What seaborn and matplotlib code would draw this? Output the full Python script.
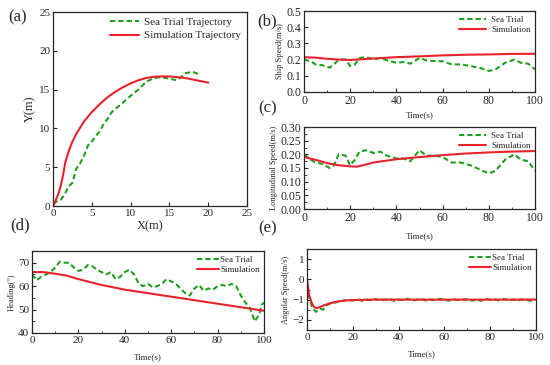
"""Sea trial vs simulation comparison: trajectory, speeds, heading, angular speed."""

import matplotlib.pyplot as plt
import pandas as pd
import seaborn as sns
from matplotlib.ticker import AutoMinorLocator

# (a) trajectory
traj_sea_x = [0, 0.5, 1, 1.5, 2, 2.5, 3, 3.5, 4, 4.5, 5, 5.5, 6, 6.5, 7, 7.5, 8,
              8.5, 9, 10, 11, 12, 13, 14, 15, 16, 16.5, 17, 18, 18.5, 19]
traj_sea_y = [0.3, 0.6, 0.8, 1.5, 2.5, 3.0, 4.8, 5.5, 6.5, 7.8, 8.3, 9.0, 9.6,
              10.5, 11.2, 12.0, 12.5, 12.9, 13.3, 14.2, 15.0, 16.0, 16.5, 16.6,
              16.4, 16.2, 16.6, 17.1, 17.3, 17.1, 16.8]
traj_sim_x = [0, 0.3, 0.7, 1.0, 1.3, 1.6, 2, 2.5, 3, 4, 5, 6, 7, 8, 9, 10, 11,
              12, 13, 14, 15, 16, 17, 18, 19, 20]
traj_sim_y = [0, 0.6, 1.6, 2.6, 4.0, 5.7, 7.0, 8.3, 9.3, 10.9, 12.1, 13.1, 14.0,
              14.7, 15.3, 15.8, 16.2, 16.5, 16.65, 16.7, 16.7, 16.6, 16.5,
              16.3, 16.1, 15.9]

# (b) ship speed
t_sea = [0, 3, 5, 8, 11, 13, 15, 18, 20, 22, 24, 27, 30, 33, 36, 40, 43, 46,
         50, 53, 57, 60, 64, 68, 72, 76, 80, 83, 87, 91, 94, 97, 100]
ship_sea = [0.20, 0.19, 0.17, 0.165, 0.15, 0.17, 0.20, 0.20, 0.16, 0.17, 0.21,
            0.215, 0.20, 0.21, 0.195, 0.18, 0.185, 0.175, 0.21, 0.195, 0.19,
            0.19, 0.17, 0.17, 0.16, 0.15, 0.13, 0.14, 0.18, 0.20, 0.18, 0.175,
            0.14]
t_sim = [0, 5, 10, 15, 20, 25, 30, 40, 50, 60, 70, 80, 90, 100]
ship_sim = [0.215, 0.212, 0.205, 0.200, 0.198, 0.202, 0.207, 0.215, 0.220,
            0.226, 0.230, 0.232, 0.235, 0.236]

# (c) longitudinal speed
long_sea = [0.20, 0.18, 0.17, 0.165, 0.15, 0.16, 0.20, 0.195, 0.16, 0.18, 0.21,
            0.215, 0.205, 0.21, 0.195, 0.185, 0.185, 0.175, 0.215, 0.195,
            0.195, 0.19, 0.17, 0.17, 0.16, 0.145, 0.13, 0.14, 0.18, 0.20, 0.18,
            0.175, 0.14]
t_long_sim = [0, 5, 10, 15, 20, 23, 27, 30, 40, 50, 60, 70, 80, 90, 100]
long_sim = [0.19, 0.18, 0.168, 0.160, 0.156, 0.155, 0.163, 0.170, 0.182, 0.190,
            0.197, 0.203, 0.207, 0.210, 0.212]

# (d) heading
t_head_sea = [0, 2, 4, 6, 8, 10, 12, 14, 16, 18, 20, 22, 24, 26, 28, 30, 32, 34,
              36, 38, 40, 42, 44, 46, 48, 50, 52, 54, 56, 58, 60, 62, 64, 66,
              68, 70, 72, 74, 76, 78, 80, 82, 84, 86, 88, 90, 92, 94, 96, 98,
              99, 100]
head_sea = [65, 62.5, 64, 65, 66, 68, 70.5, 70, 70, 68, 66.5, 67, 69, 68.5, 67,
            66, 65, 66, 63, 64, 66, 67, 65, 61, 60, 61, 59.5, 60, 61, 63, 62,
            61, 59, 57, 56, 59, 60.5, 58, 59, 58.5, 60, 60.5, 60, 61, 60, 56,
            53, 50.5, 45, 48, 52, 53]
t_head_sim = [0, 5, 10, 15, 20, 30, 40, 50, 60, 70, 80, 90, 100]
head_sim = [66, 66, 65.3, 64.5, 63, 60.5, 58.5, 57, 55.5, 54, 52.5, 51, 49.5]

# (e) angular speed
t_ang_sea = [0, 1, 2, 3, 4, 5, 6, 7, 8, 9, 10, 12, 14, 16, 18, 20, 22, 24, 26,
             28, 30, 32, 34, 36, 38, 40, 42, 44, 46, 48, 50, 52, 54, 56, 58,
             60, 62, 64, 66, 68, 70, 72, 74, 76, 78, 80, 82, 84, 86, 88, 90,
             92, 94, 96, 98, 99]
ang_sea = [-0.3, -0.9, -1.3, -1.5, -1.6, -1.55, -1.45, -1.5, -1.3, -1.25, -1.2,
           -1.15, -1.1, -1.05, -1.0, -1.05, -0.98, -1.06, -1.0, -1.04, -0.97,
           -1.05, -1.0, -0.96, -1.06, -1.0, -1.03, -0.95, -1.07, -1.0, -0.97,
           -1.05, -1.0, -1.04, -0.96, -1.02, -1.05, -0.98, -1.03, -1.0, -0.97,
           -1.05, -1.0, -1.06, -0.95, -1.02, -1.0, -1.05, -0.97, -1.03, -1.0,
           -1.05, -0.98, -1.02, -1.06, -0.92]
t_ang_sim = [0, 1, 2, 3, 4, 5, 7, 10, 13, 16, 20, 30, 100]
ang_sim = [0, -0.8, -1.15, -1.35, -1.42, -1.4, -1.3, -1.18, -1.1, -1.05, -1.02,
           -1.0, -1.0]

GREEN = "#1f9e1f"
RED = "#e8222a"


def draw_pair(ax, xs, ys, xm, ym, sea_label, sim_label, lw=1.5):
    sea = pd.DataFrame({"x": xs, "y": ys})
    sim = pd.DataFrame({"x": xm, "y": ym})
    sns.lineplot(data=sea, x="x", y="y", sort=False, color=GREEN, lw=lw,
                 ls=(0, (2.5, 1.5)), label=sea_label, ax=ax)
    sns.lineplot(data=sim, x="x", y="y", sort=False, color=RED, lw=lw,
                 label=sim_label, ax=ax)


def style_axis(ax, fs):
    ax.tick_params(direction="in", labelsize=fs, length=3, width=0.8, pad=2)
    ax.tick_params(which="minor", direction="in", length=1.8, width=0.6)
    for s in ax.spines.values():
        s.set_linewidth(0.9)


sns.set_style("ticks")
plt.rcParams["font.family"] = ["Liberation Serif", "DejaVu Serif"]

fig = plt.figure(figsize=(5.5, 3.65), dpi=100)
W, H = 550, 365


def add_ax(l, t, r, b):
    return fig.add_axes([l / W, 1 - b / H, (r - l) / W, (b - t) / H])


# (a)
ax = add_ax(53, 12, 247, 206)
draw_pair(ax, traj_sea_x, traj_sea_y, traj_sim_x, traj_sim_y,
          "Sea Trial Trajectory", "Simulation Trajectory")
ax.set_xlim(0, 25)
ax.set_ylim(0, 25)
ax.set_xticks([0, 5, 10, 15, 20, 25])
ax.set_yticks([0, 5, 10, 15, 20, 25])
ax.set_xlabel("X(m)", fontsize=9, labelpad=2)
ax.set_ylabel("Y(m)", fontsize=9, labelpad=2)
style_axis(ax, 8)
ax.legend(loc="upper right", frameon=False, fontsize=8, handlelength=2.6,
          borderaxespad=0.1, labelspacing=0.3, handletextpad=0.5)

# (b)
ax = add_ax(304, 11, 535, 92)
draw_pair(ax, t_sea, ship_sea, t_sim, ship_sim, "Sea Trial", "Simulation")
ax.set_xlim(0, 100)
ax.set_ylim(0, 0.5)
ax.set_yticks([0, 0.1, 0.2, 0.3, 0.4, 0.5])
ax.set_xlabel("Time(s)", fontsize=6.5, labelpad=3)
ax.set_ylabel("Ship Speed(m/s)", fontsize=6, labelpad=2)
ax.xaxis.set_minor_locator(AutoMinorLocator(2))
style_axis(ax, 8.5)
ax.legend(loc="upper right", frameon=False, fontsize=6.5, handlelength=3,
          borderaxespad=0.1, labelspacing=0.2, handletextpad=0.5)

# (c)
ax = add_ax(304, 127, 535, 209)
draw_pair(ax, t_sea, long_sea, t_long_sim, long_sim, "Sea Trial", "Simulation")
ax.set_xlim(0, 100)
ax.set_ylim(0, 0.3)
ax.set_yticks([0, 0.05, 0.1, 0.15, 0.2, 0.25, 0.3])
ax.set_yticklabels(["0.00", "0.05", "0.10", "0.15", "0.20", "0.25", "0.30"])
ax.set_xlabel("Time(s)", fontsize=6.5, labelpad=6)
ax.set_ylabel("Longitudinal Speed(m/s)", fontsize=6, labelpad=2)
ax.xaxis.set_minor_locator(AutoMinorLocator(2))
ax.yaxis.set_minor_locator(AutoMinorLocator(2))
style_axis(ax, 8.5)
ax.legend(loc="upper right", frameon=False, fontsize=6.5, handlelength=3,
          borderaxespad=0.1, labelspacing=0.2, handletextpad=0.5)

# (d)
ax = add_ax(32, 251, 264, 333)
draw_pair(ax, t_head_sea, head_sea, t_head_sim, head_sim, "Sea Trial",
          "Simulation")
ax.set_xlim(0, 100)
ax.set_ylim(40, 75)
ax.set_yticks([40, 50, 60, 70])
ax.set_xlabel("Time(s)", fontsize=6.5, labelpad=6)
ax.set_ylabel("Heading(°)", fontsize=6, labelpad=2)
ax.xaxis.set_minor_locator(AutoMinorLocator(2))
ax.yaxis.set_minor_locator(AutoMinorLocator(2))
style_axis(ax, 8)
ax.legend(loc="upper right", frameon=False, fontsize=6.5, handlelength=2.5,
          borderaxespad=0.1, labelspacing=0.2, handletextpad=0.1)

# (e)
ax = add_ax(307, 249, 536, 330)
draw_pair(ax, t_ang_sea, ang_sea, t_ang_sim, ang_sim, "Sea Trial",
          "Simulation")
ax.set_xlim(0, 100)
ax.set_ylim(-2.5, 1.5)
ax.set_yticks([-2, -1, 0, 1])
ax.set_yticklabels(["\u22122", "\u22121", "0", "1"])
ax.set_xlabel("Time(s)", fontsize=6.5, labelpad=6)
ax.set_ylabel("Angular Speed(m/s)", fontsize=6, labelpad=2)
ax.xaxis.set_minor_locator(AutoMinorLocator(2))
ax.yaxis.set_minor_locator(AutoMinorLocator(2))
style_axis(ax, 8)
ax.legend(loc="upper right", frameon=False, fontsize=6.5, handlelength=2.5,
          borderaxespad=0.1, labelspacing=0.2, handletextpad=0.1)

# panel letters
for txt, x, y in [("(a)", 18, 17), ("(b)", 267, 21), ("(c)", 268, 108),
                  ("(d)", 20, 225), ("(e)", 268, 228)]:
    fig.text(x / W, 1 - y / H, txt, fontsize=12, ha="center", va="center")

fig.savefig("out.png", dpi=100)
